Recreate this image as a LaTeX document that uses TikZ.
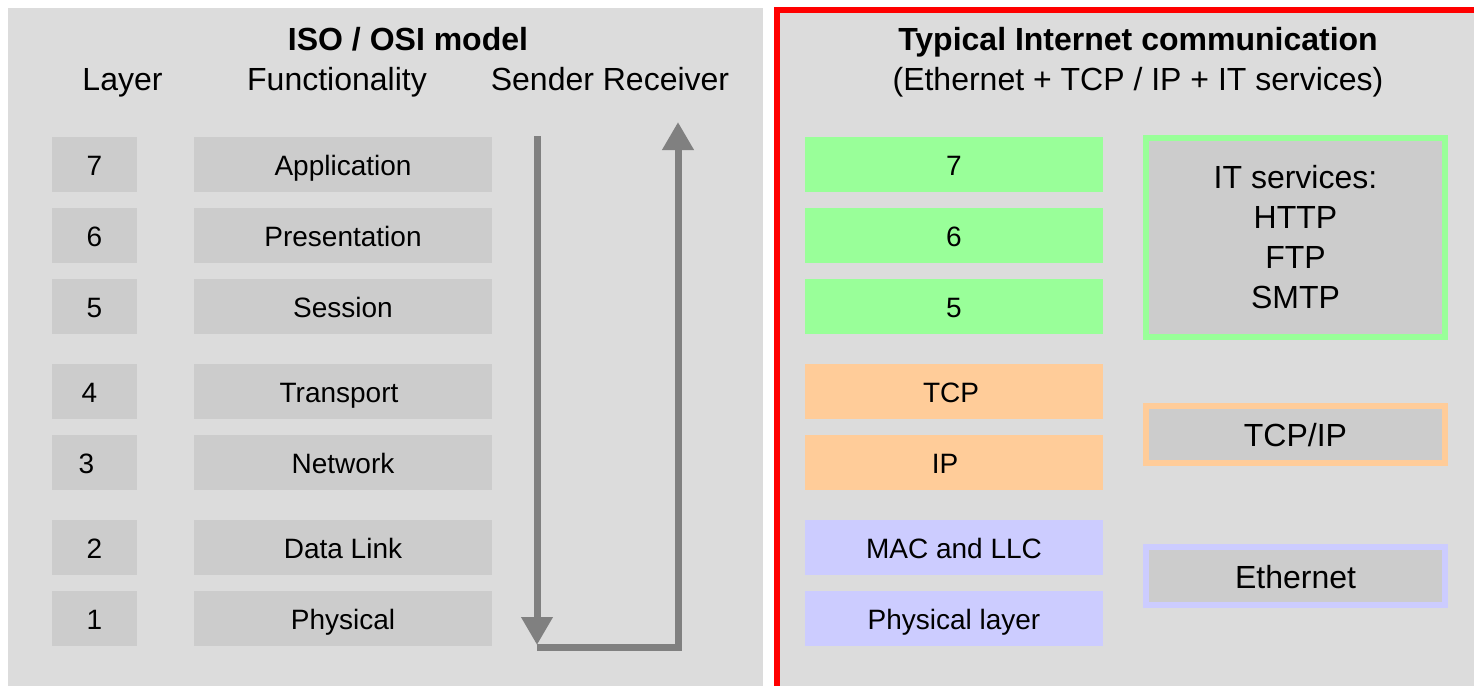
\documentclass[tikz,border=0pt]{standalone}
\usepackage{fontspec}
\setmainfont{Liberation Sans}
\usetikzlibrary{arrows.meta}
\definecolor{bggray}{HTML}{DCDCDC}
\definecolor{boxgray}{HTML}{CCCCCC}
\definecolor{arrgray}{HTML}{808080}
\definecolor{lgreen}{HTML}{99FF99}
\definecolor{lpeach}{HTML}{FFCC99}
\definecolor{llav}{HTML}{CCCCFF}
\definecolor{fred}{HTML}{FF0000}
\newcommand{\fsz}[1]{\fontsize{#1}{#1}\selectfont}
\tikzset{
  numbox/.style={fill=boxgray, minimum width=42.5pt, minimum height=27.5pt, inner sep=0pt, font=\fsz{14}, text height=10.5pt, text depth=0pt},
  funcbox/.style={fill=boxgray, minimum width=149pt, minimum height=27.5pt, inner sep=0pt, font=\fsz{14}, text height=10.5pt, text depth=0pt},
  netbox/.style={fill=#1, minimum width=149pt, minimum height=27.5pt, inner sep=0pt, font=\fsz{14}, text height=10.5pt, text depth=0pt},
  svcbox/.style={fill=boxgray, draw=#1, line width=3pt, minimum width=149.5pt, inner sep=0pt, font=\fontsize{16}{20}\selectfont, align=center},
  onebox/.style={text height=12.25pt, text depth=0pt},
  hdr/.style={font=\fsz{16}, inner sep=0pt, anchor=base},
  hdrb/.style={font=\fsz{16}\bfseries, inner sep=0pt, anchor=base},
  flow/.style={draw=arrgray, line width=3.5pt, -{Triangle[width=15pt,length=14pt]}},
}
\begin{document}
\begin{tikzpicture}[x=0.5pt,y=-0.5pt]
\useasboundingbox (0,0) rectangle (1474,686);
\fill[white] (0,0) rectangle (1474,686);
% panels
\fill[bggray] (8,8) rectangle (763,686);
\begin{scope}
\clip (0,0) rectangle (1474,686);
\draw[fred, fill=bggray, line width=3pt] (777,10) rectangle (1500,720);
\end{scope}
% headers left
\node[hdrb] (t1) at (408,50) {ISO / OSI model};
\node[hdr] (hl) at (122.5,90) {Layer};
\node[hdr] (hf) at (337,90) {Functionality};
\node[hdr] (hs) at (610,90) {Sender Receiver};
% headers right
\node[hdrb] (t2) at (1138,50) {Typical Internet communication};
\node[hdr] (t3) at (1138,90) {(Ethernet + TCP / IP + IT services)};
% left column boxes
\node[numbox] (n7) at (94.5,164.5) {7};
\node[numbox] (n6) at (94.5,235.5) {6};
\node[numbox] (n5) at (94.5,306.5) {5};
\node[numbox] (n4) at (94.5,391.5) {\hspace*{-5pt}4};
\node[numbox] (n3) at (94.5,462.5) {\hspace*{-8pt}3};
\node[numbox] (n2) at (94.5,547.5) {2};
\node[numbox] (n1) at (94.5,618.5) {1};
\node[funcbox] (f7) at (343,164.5) {Application};
\node[funcbox] (f6) at (343,235.5) {Presentation};
\node[funcbox] (f5) at (343,306.5) {Session};
\node[funcbox] (f4) at (343,391.5) {\hspace*{-4pt}Transport};
\node[funcbox] (f3) at (343,462.5) {Network};
\node[funcbox] (f2) at (343,547.5) {Data Link};
\node[funcbox] (f1) at (343,618.5) {Physical};
% sender/receiver arrows
\coordinate (sTop) at (537,136);
\coordinate (sBot) at (537,645);
\coordinate (bL) at (537,647);
\coordinate (bR) at (678,647);
\coordinate (rTop) at (678,122);
\draw[flow] (sTop) -- (sBot);
\draw[flow] (bL) -- (bR) -- (rTop);
% right: internet stack
\node[netbox=lgreen] (i7) at (954,164.5) {7};
\node[netbox=lgreen] (i6) at (954,235.5) {6};
\node[netbox=lgreen] (i5) at (954,306.5) {5};
\node[netbox=lpeach] (i4) at (954,391.5) {\hspace*{-3pt}TCP};
\node[netbox=lpeach] (i3) at (954,462.5) {\hspace*{-9pt}IP};
\node[netbox=llav] (i2) at (954,547.5) {MAC and LLC};
\node[netbox=llav] (i1) at (954,618.5) {Physical layer};
% right: service groups
\node[svcbox=lgreen, minimum height=99.5pt] (svc) at (1295.5,237) {IT services:\\HTTP\\FTP\\SMTP};
\node[svcbox=lpeach, onebox, minimum height=28.5pt] (tcpip) at (1295.5,434.5) {TCP/IP};
\node[svcbox=llav, onebox, minimum height=29pt] (eth) at (1295.5,576) {Ethernet};
\end{tikzpicture}
\end{document}
